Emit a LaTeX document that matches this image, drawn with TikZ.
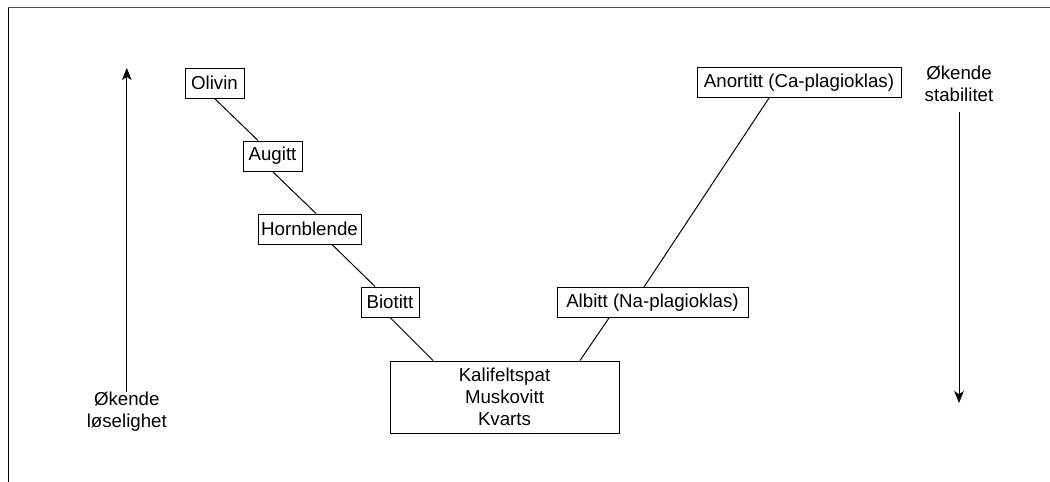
\documentclass[tikz,border=0pt]{standalone}
\usepackage{fontspec}
\setmainfont{Liberation Sans}
\usetikzlibrary{positioning,arrows.meta}
\tikzset{mineral/.style={rectangle,draw,line width=0.7pt,minimum height=0.75cm,inner sep=0pt,font=\fontsize{13.3}{15.5}\selectfont} }
\tikzset{axis label/.style={align=center,inner sep=0pt,font=\fontsize{13.3}{15.5}\selectfont} }

\begin{document}
\begin{tikzpicture}
\useasboundingbox (0,0) rectangle (26.25,-12.05);
\draw[line width=0.7pt] (0.2,-12.05) -- (0.2,-0.1875);
\draw[line width=0.9pt, black!70] (0.2,-0.1875) -- (26.25,-0.1875);
\begin{scope}[on grid]

  % left branch
  \node[mineral, minimum width=1.475cm] (olivin) at (5.3625,-2.075) {Olivin};
  \node[mineral, minimum width=1.475cm] (augitt) [below right =1.825cm and 1.45cm of olivin] {Augitt};
  \node[mineral, minimum width=2.575cm] (hornblende) [below right =1.825cm and 0.925cm of augitt] {Hornblende};
  \node[mineral, minimum width=1.45cm] (biotitt) [below right =1.825cm and 2.0125cm of hornblende] {Biotitt};

  \node[mineral, minimum width=5.725cm, minimum height=1.8cm, align=center] (kvarts) [below right =2.375cm and 2.8625cm of biotitt] {Kalifeltspat\\Muskovitt\\Kvarts};

  % right branch
  \node[mineral, minimum width=4.775cm] (albitt) [above right =2.3625cm and 3.7cm of kvarts] {Albitt (Na-plagioklas)};
  \node[mineral, minimum width=5.1cm] (anortitt) [above right =5.5cm and 3.6625cm of albitt] {Anortitt (Ca-plagioklas)};

  % axes
  \node[axis label] (loselighet) at (3.17,-10.3) {Økende\\løselighet};
  \coordinate (loselTop) at (3.17,-1.7);
  \node[axis label] (stabilitet) at (23.975,-2.0875) {Økende\\stabilitet};
  \coordinate (stabBottom) at (23.975,-10.075);

    \path[line width=0.7pt]
    (olivin.south) edge [-] ([xshift=-0.3625cm]augitt.north)
    (augitt.south) edge [-] ([xshift=0.1625cm]hornblende.north)
    ([xshift=0.5625cm]hornblende.south) edge [-] ([xshift=-0.375cm]biotitt.north)
    (biotitt.south) edge [-] ([xshift=-1.7875cm]kvarts.north)

    ([xshift=1.8875cm]kvarts.north) edge [-] ([xshift=-1.0875cm]albitt.south)
    ([xshift=-0.2125cm]albitt.north) edge [-] ([xshift=-0.75cm]anortitt.south)

    (loselighet.north) edge [-{Stealth[length=0.3cm,width=0.24cm,inset=0.08cm]}] (loselTop)
    ([yshift=-0.25cm]stabilitet.south) edge [-{Stealth[length=0.3cm,width=0.24cm,inset=0.08cm]}] (stabBottom)
    ;
    \end{scope}
\end{tikzpicture}
\end{document}
